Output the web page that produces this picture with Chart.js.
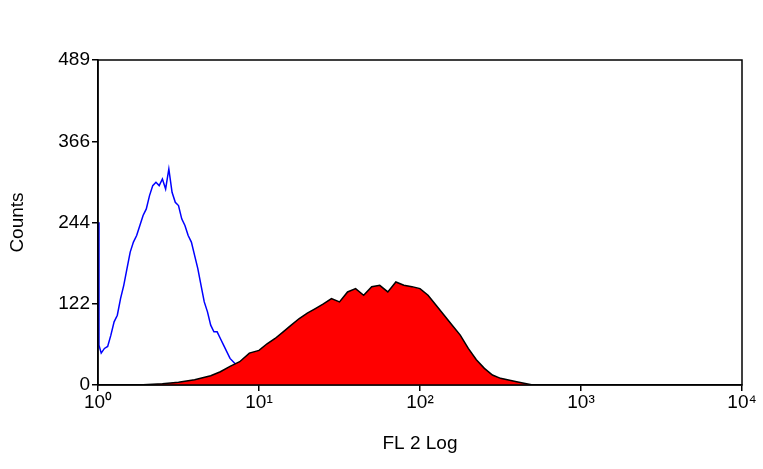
<!DOCTYPE html><html><head><script src="https://cdn.jsdelivr.net/npm/chart.js@4/dist/chart.umd.min.js"></script>
<style>body{margin:0;background:#fff}#w{width:763px;height:469px}</style></head><body><div id="w"><canvas id="c"></canvas></div>
<script>
const xTickLabels=['10⁰','10¹','10²','10³','10⁴'];
const yTickValues=[0,122,244,366,489];
const blueX=[0,0.006,0.02,0.04,0.06,0.08,0.10,0.12,0.14,0.16,0.18,0.20,0.22,0.24,0.26,0.28,0.30,0.32,0.34,0.36,0.38,0.40,0.42,0.44,0.46,0.48,0.50,0.52,0.54,0.56,0.58,0.60,0.62,0.64,0.66,0.68,0.70,0.72,0.74,0.76,0.78,0.82,0.86,0.90,0.94,1.00,1.05,1.10,1.20,1.30,1.45];
const blueY=[245,60,48,55,58,75,95,105,130,150,175,200,215,225,240,255,265,285,300,305,300,310,295,325,290,275,270,250,240,225,215,195,175,150,125,110,90,80,80,70,60,40,30,25,18,14,10,8,5,3,1];
const redX=[0.25,0.4,0.5,0.6,0.7,0.76,0.82,0.88,0.94,1.0,1.05,1.1,1.15,1.2,1.25,1.3,1.35,1.4,1.45,1.5,1.55,1.6,1.65,1.7,1.75,1.8,1.85,1.9,1.95,2.0,2.05,2.1,2.15,2.2,2.25,2.3,2.35,2.4,2.45,2.5,2.6,2.7];
const redY=[0,2,4,8,14,20,28,35,48,52,62,70,80,90,100,108,115,122,130,125,140,145,135,148,150,140,155,150,148,145,135,120,105,90,75,55,38,25,15,10,5,0];
const pts=(xs,ys)=>xs.map((x,i)=>({x,y:ys[i]}));
const frame={id:'frame',afterDraw(c){const a=c.chartArea,g=c.ctx;g.save();g.strokeStyle='#000';g.lineWidth=1.5;g.strokeRect(a.left,a.top,a.right-a.left,a.bottom-a.top);g.restore();}};
const F={family:'Liberation Sans',size:19};
new Chart(document.getElementById('c'),{type:'line',data:{datasets:[
{data:pts(redX,redY),borderColor:'#000',borderWidth:1.5,backgroundColor:'#ff0000',fill:'origin',pointRadius:0,tension:0},
{data:pts(blueX,blueY),borderColor:'#0000ff',borderWidth:1.5,fill:false,pointRadius:0,tension:0}
]},options:{animation:false,responsive:true,maintainAspectRatio:false,
layout:{padding:{top:60,right:21,left:6,bottom:14}},
plugins:{legend:{display:false},tooltip:{enabled:false}},
scales:{x:{type:'linear',min:0,max:4,grid:{display:true,drawOnChartArea:false,tickLength:6,color:'#000',lineWidth:1.5},border:{color:'#000',width:1.5},
ticks:{stepSize:1,color:'#000',font:F,padding:0,callback:v=>xTickLabels[v]},
title:{display:true,text:'FL 2 Log',color:'#000',font:F,padding:{top:0,bottom:0}},
afterFit:s=>{s.height=70;}},
y:{min:0,max:489,grid:{display:true,drawOnChartArea:false,tickLength:6,color:'#000',lineWidth:1.5},border:{color:'#000',width:1.5},
afterBuildTicks:s=>{s.ticks=yTickValues.map(v=>({value:v}));},
ticks:{color:'#000',font:F,padding:2},
title:{display:true,text:'Counts',color:'#000',font:F,padding:0},
afterFit:s=>{s.width=92;}}}},plugins:[frame]});
</script></body></html>
